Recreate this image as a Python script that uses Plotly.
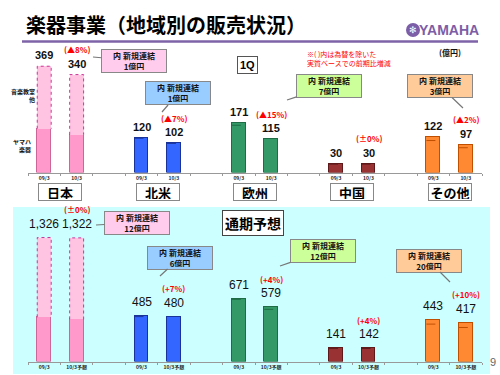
import plotly.graph_objects as go

# ---------------- data ----------------
regions = ["日本", "北米", "欧州", "中国", "その他"]
positions = [0, 1, 3, 4, 6, 7, 9, 10, 12, 13]
q1_ticks = ["09/3", "10/3"] * 5
fy_ticks = ["09/3", "10/3予想"] * 5

q1_total = [369, 340, 120, 102, 171, 115, 30, 30, 122, 97]
q1_japan_yamaha = [152, 131]          # ヤマハ楽器 part of 日本 bars
q1_dash_level = [None, None, 119, 101, 164, None, 29, 29, 111, 86]
q1_pct = ["(▲8%)", "(▲7%)", "(▲15%)", "(±0%)", "(▲2%)"]
q1_new = [1, 1, 7, None, 3]

fy_total = [1326, 1322, 485, 480, 671, 579, 141, 142, 443, 417]
fy_japan_yamaha = [473, 451]
fy_dash_level = [None, None, 480, None, 665, 558, 138, 139, 400, 364]
fy_pct = ["(±0%)", "(+7%)", "(+4%)", "(+4%)", "(+10%)"]
fy_new = [12, 6, 12, None, 20]

# ---------------- styles ----------------
W, H = 500, 375
def PX(x): return x / W
def PY(y): return 1 - y / H

fill = ["#FF99CC", "#FF99CC", "#3366FF", "#3366FF", "#339966", "#339966",
        "#993333", "#993333", "#FF8833", "#FF8833"]
edge = ["#CC6699", "#CC6699", "#1A3399", "#1A3399", "#1E6B45", "#1E6B45",
        "#5E1A1A", "#5E1A1A", "#C05000", "#C05000"]
upper_pink = "#FFC4E1"
callout_bg = ["#FFCCEE", "#99CCFF", "#CCFF99", None, "#FFCC99"]
BW = 0.43
NUMF = "Liberation Sans, Noto Sans CJK JP"
JPF = "Noto Sans CJK JP, Liberation Sans"

fig = go.Figure()

def add_panel(total, jy, dash_level, xa, ya):
    base = [jy[0], jy[1]] + total[2:]
    fig.add_trace(go.Bar(x=positions, y=base, width=BW, marker=dict(color=fill, line=dict(color=edge, width=1)),
                         xaxis=xa, yaxis=ya, showlegend=False, hoverinfo="skip"))
    upper = [total[0] - jy[0], total[1] - jy[1]]
    fig.add_trace(go.Bar(x=positions[:2], y=upper, width=BW, marker=dict(color=upper_pink, line=dict(width=0)),
                         xaxis=xa, yaxis=ya, showlegend=False, hoverinfo="skip"))
    for i in range(2):
        p = positions[i]
        fig.add_trace(go.Scatter(x=[p - BW / 2, p - BW / 2, p + BW / 2, p + BW / 2],
                                 y=[jy[i], total[i], total[i], jy[i]], mode="lines",
                                 line=dict(color="#CC3399", width=1, dash="dot"),
                                 xaxis=xa, yaxis=ya, showlegend=False, hoverinfo="skip"))
    for i, lv in enumerate(dash_level):
        if lv is None:
            continue
        p = positions[i]
        fig.add_trace(go.Scatter(x=[p - BW / 2, p + BW / 2], y=[lv, lv], mode="lines",
                                 line=dict(color=edge[i], width=1, dash="dash"),
                                 xaxis=xa, yaxis=ya, showlegend=False, hoverinfo="skip"))

add_panel(q1_total, q1_japan_yamaha, q1_dash_level, "x", "y")
add_panel(fy_total, fy_japan_yamaha, fy_dash_level, "x2", "y2")

ann = []
shapes = []

def paper_text(x, y, text, font, **kw):
    d = dict(x=PX(x), y=PY(y), xref="paper", yref="paper", text=text, showarrow=False,
             xanchor="center", yanchor="middle", font=font)
    d.update(kw)
    ann.append(d)

# value labels
for i, p in enumerate(positions):
    ann.append(dict(x=p, y=q1_total[i], xref="x", yref="y", text=f"<b>{q1_total[i]}</b>", showarrow=False,
                    xanchor="center", yanchor="middle", yshift=11, font=dict(family=NUMF, size=11, color="#111")))
    ann.append(dict(x=p, y=fy_total[i], xref="x2", yref="y2", text=f"{fy_total[i]:,}", showarrow=False,
                    xanchor="center", yanchor="middle", yshift=14, font=dict(family=NUMF, size=12, color="#111")))
# pct labels (above 10/3 bars)
for g in range(5):
    i = 2 * g + 1
    p = positions[i]
    ann.append(dict(x=p, y=q1_total[i], xref="x", yref="y", text=f"<b>{q1_pct[g]}</b>", showarrow=False,
                    xanchor="center", yanchor="middle", yshift=25, font=dict(family=JPF, size=8, color="#FF0000")))
    ann.append(dict(x=p, y=fy_total[i], xref="x2", yref="y2", text=f"<b>{fy_pct[g]}</b>", showarrow=False,
                    xanchor="center", yanchor="middle", yshift=28, font=dict(family=JPF, size=8, color="#FF0000")))

# region boxes
for g, r in enumerate(regions):
    cx = (positions[2 * g] + positions[2 * g + 1]) / 2
    ann.append(dict(x=cx, y=PY(192), xref="x", yref="paper", text=f"<b>{r}</b>", showarrow=False,
                    xanchor="center", yanchor="middle",
                    bgcolor="white", bordercolor="#888", borderwidth=1, borderpad=1, width=40, height=14,
                    font=dict(family=JPF, size=13, color="#000")))

# callouts: (box center, tail tip) in pixels
q1_callouts = [((134, 60.5), (93, 57)), ((178, 93.5), (162, 112)), ((329, 86), (287, 100)),
               None, ((440, 86), (463, 108))]
fy_callouts = [((137, 222.5), (96, 225)), ((180, 257.5), (160, 276)), ((323, 251), (280, 266)),
               None, ((428.5, 260.5), (450, 282))]
for news, cl in ((q1_new, q1_callouts), (fy_new, fy_callouts)):
    for g in range(5):
        if news[g] is None:
            continue
        (bx, by), (tx, ty) = cl[g]
        ann.append(dict(x=PX(tx), y=PY(ty), xref="paper", yref="paper", axref="pixel", ayref="pixel",
                        ax=bx - tx, ay=by - ty, showarrow=True, arrowhead=0, arrowwidth=1.2, arrowcolor="#777",
                        xanchor="center", yanchor="middle",
                        text=f"<b>内 新規連結<br>{news[g]}億円</b>", bgcolor=callout_bg[g],
                        bordercolor="#888", borderwidth=1, borderpad=2, width=60, height=18,
                        font=dict(family=JPF, size=8, color="#111")))

# panel labels
paper_text(247.5, 65, "<b>1Q</b>", dict(family=NUMF, size=11, color="#000"),
           bgcolor="white", bordercolor="#555", borderwidth=1, borderpad=2)
paper_text(253, 222.5, "<b>通期予想</b>", dict(family=JPF, size=14, color="#000"),
           bgcolor="white", bordercolor="#444", borderwidth=1, borderpad=2)

# title and misc text
paper_text(24, 25, "<b>楽器事業（地域別の販売状況）</b>", dict(family=JPF, size=20, color="#000"), xanchor="left")
paper_text(449, 30, "<b>YAMAHA</b>", dict(family=NUMF, size=14, color="#7B5EA7"))
paper_text(413, 30, "✻", dict(family="DejaVu Sans", size=9, color="white"))
paper_text(305, 58.5, "※( )内は為替を除いた<br>実質ベースでの前期比増減", dict(family=JPF, size=7, color="#FF0000"),
           xanchor="left", align="left")
paper_text(450, 52.5, "<b>(億円)</b>", dict(family=JPF, size=8, color="#111"))
paper_text(37, 95, "<b>音楽教室<br>他</b>", dict(family=JPF, size=6, color="#111"), xanchor="right", align="right")
paper_text(33, 145, "<b>ヤマハ<br>楽器</b>", dict(family=JPF, size=6, color="#111"), xanchor="right", align="right")
paper_text(493, 362, "9", dict(family=NUMF, size=11, color="#666"))

# background panel, rule, emblem
shapes.append(dict(type="rect", xref="paper", yref="paper", x0=PX(13), x1=PX(490), y0=PY(374), y1=PY(207),
                   fillcolor="#CCFFFF", line=dict(width=0), layer="below"))
shapes.append(dict(type="line", xref="paper", yref="paper", x0=PX(22), x1=PX(478), y0=PY(41.5), y1=PY(41.5),
                   line=dict(color="#7F63A8", width=2.5)))
shapes.append(dict(type="circle", xref="paper", yref="paper", x0=PX(406), x1=PX(420), y0=PY(37), y1=PY(23),
                   fillcolor="#7B5EA7", line=dict(width=0)))

axis_common = dict(range=[-0.5, 13.5], domain=[PX(28), PX(482)], showline=True, linecolor="#999",
                   linewidth=1, showgrid=False, zeroline=False, tickvals=positions, ticks="",
                   tickfont=dict(family=JPF, size=5, color="#222"), fixedrange=True,
                   minor=dict(tickvals=[v - 0.5 for v in range(15)], ticks="outside", ticklen=2, tickcolor="#999"))

fig.update_layout(
    width=W, height=H, margin=dict(l=0, r=0, t=0, b=0),
    paper_bgcolor="white", plot_bgcolor="rgba(0,0,0,0)", barmode="stack", bargap=0,
    xaxis=dict(**axis_common, ticktext=[f"<b>{t}</b>" for t in q1_ticks], anchor="y"),
    xaxis2=dict(**axis_common, ticktext=[f"<b>{t}</b>" for t in fy_ticks], anchor="y2"),
    yaxis=dict(domain=[PY(172.5), PY(60)], range=[0, 390.6], visible=False, fixedrange=True),
    yaxis2=dict(domain=[PY(361.5), PY(230)], range=[0, 1406.4], visible=False, fixedrange=True),
    annotations=ann, shapes=shapes, showlegend=False,
)

fig.write_html("out.html", config={"displayModeBar": False},
               post_script="document.body.style.margin='0';document.body.style.overflow='hidden';")
